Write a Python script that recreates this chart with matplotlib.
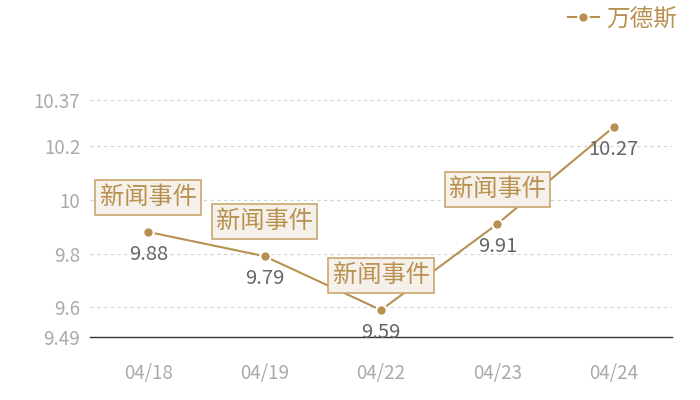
import matplotlib
matplotlib.use('Agg')
import matplotlib.pyplot as plt

plt.rcParams['font.family'] = ['Noto Sans CJK SC', 'DejaVu Sans']

# data
dates = ['04/18', '04/19', '04/22', '04/23', '04/24']
prices = [9.88, 9.79, 9.59, 9.91, 10.27]
events = ['新闻事件', '新闻事件', '新闻事件', '新闻事件', None]
yticks = [9.49, 9.6, 9.8, 10, 10.2, 10.37]
ytick_labels = ['9.49', '9.6', '9.8', '10', '10.2', '10.37']
series_name = '万德斯'

gold = '#b8904f'
x = list(range(len(dates)))

fig = plt.figure(figsize=(7, 4), dpi=100)
ax = fig.add_axes([90 / 700, 63 / 400, 582 / 700, 237 / 400])

ax.plot(x, prices, color=gold, lw=1.5, marker='o', ms=7.5,
        mfc=gold, mec='white', mew=1.5, label=series_name, zorder=3)

ax.set_xlim(-0.5, len(dates) - 0.5)
ax.set_ylim(yticks[0], yticks[-1])
ax.set_xticks(x)
ax.set_xticklabels(dates)
ax.set_yticks(yticks)
ax.set_yticklabels(ytick_labels)
ax.tick_params(axis='both', length=0, colors='#aaaaaa', labelsize=13.5)
ax.tick_params(axis='x', pad=19)
ax.tick_params(axis='y', pad=7)

for y in yticks[1:]:
    ax.axhline(y, color='#d4d4d4', lw=0.8, ls=(0, (3, 3)), zorder=0)

for s in ['top', 'right', 'left']:
    ax.spines[s].set_visible(False)
ax.spines['bottom'].set_color('#333333')
ax.spines['bottom'].set_linewidth(1)

# value labels
for xi, v in zip(x, prices):
    ax.annotate(f'{v:g}', (xi, v), xytext=(0, -16), textcoords='offset points',
                ha='center', va='center', fontsize=14.5, color='#666666', zorder=4)

# event boxes
for xi, v, ev in zip(x, prices, events):
    if ev is None:
        continue
    ax.annotate(ev, (xi, v), xytext=(0, 25), textcoords='offset points',
                ha='center', va='center', fontsize=17.5, color=gold, zorder=5,
                bbox=dict(boxstyle='square,pad=0.18', fc='#f5f1ea', ec='#c9a66f', lw=1.2))

leg = fig.legend(loc='upper right', bbox_to_anchor=(0.997, 1.035), frameon=False,
                 fontsize=17, handlelength=1.3, handletextpad=0.3)
for t in leg.get_texts():
    t.set_color(gold)

fig.savefig('out.png', dpi=100)
